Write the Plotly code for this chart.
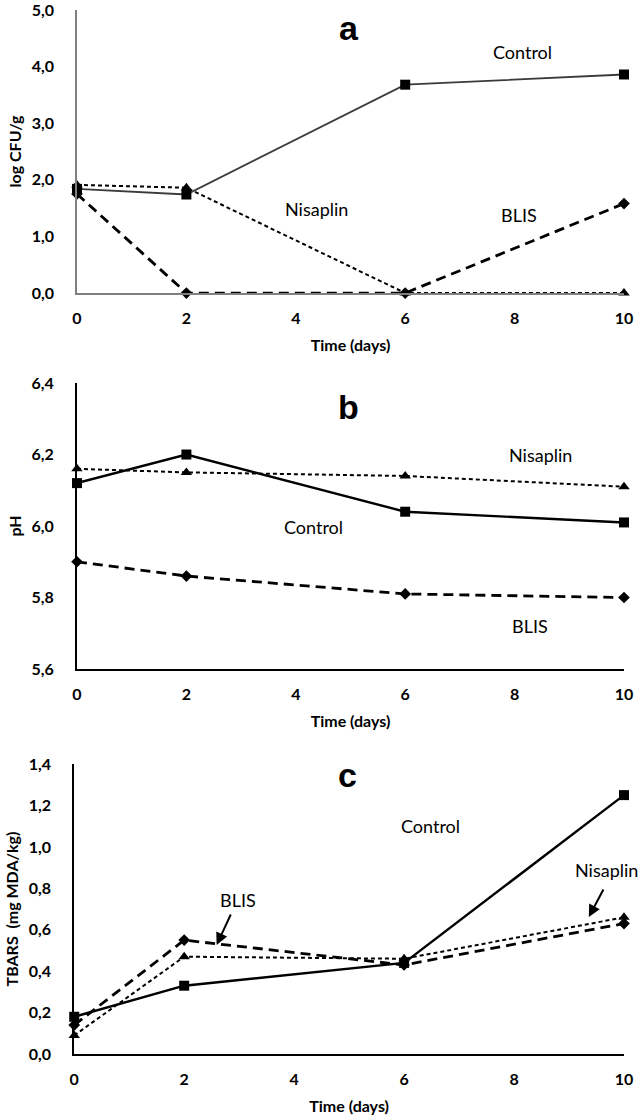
import plotly.graph_objects as go

days = [0, 2, 6, 10]

# Panel a: log CFU/g
a_control = [1.84, 1.74, 3.68, 3.86]
a_nisaplin = [1.91, 1.86, 0.0, 0.0]
a_blis = [1.75, 0.0, 0.0, 1.58]

# Panel b: pH
b_control = [6.12, 6.20, 6.04, 6.01]
b_nisaplin = [6.16, 6.15, 6.14, 6.11]
b_blis = [5.90, 5.86, 5.81, 5.80]

# Panel c: TBARS (mg MDA/kg)
c_control = [0.18, 0.33, 0.44, 1.25]
c_nisaplin = [0.09, 0.47, 0.46, 0.66]
c_blis = [0.14, 0.55, 0.43, 0.63]

x_ticks = [0, 2, 4, 6, 8, 10]
FONT = "Lato"

fig = go.Figure()


def add_panel(idx, ctrl, nis, blis, ctrl_color, ctrl_w):
    xa = "x" if idx == 1 else f"x{idx}"
    ya = "y" if idx == 1 else f"y{idx}"
    fig.add_trace(go.Scatter(x=days, y=nis, xaxis=xa, yaxis=ya, mode="lines+markers",
                             line=dict(color="black", width=2.0, dash="4px,3px"),
                             marker=dict(symbol="triangle-up", size=10, color="black"),
                             cliponaxis=False, showlegend=False, name="Nisaplin"))
    fig.add_trace(go.Scatter(x=days, y=blis, xaxis=xa, yaxis=ya, mode="lines+markers",
                             line=dict(color="black", width=2.8, dash="10px,6px"),
                             marker=dict(symbol="diamond", size=9, color="black"),
                             cliponaxis=False, showlegend=False, name="BLIS"))
    fig.add_trace(go.Scatter(x=days, y=ctrl, xaxis=xa, yaxis=ya, mode="lines+markers",
                             line=dict(color=ctrl_color, width=ctrl_w),
                             marker=dict(symbol="square", size=10, color="black"),
                             cliponaxis=False, showlegend=False, name="Control"))


add_panel(1, a_control, a_nisaplin, a_blis, "#3a3a3a", 1.8)
add_panel(2, b_control, b_nisaplin, b_blis, "black", 2.4)
add_panel(3, c_control, c_nisaplin, c_blis, "black", 2.4)

tickfont = dict(family=FONT, size=16, color="black", weight="bold")
titlefont = dict(family=FONT, size=16, color="black", weight="bold")


def xaxis(anchor, domain, color, width):
    return dict(anchor=anchor, domain=domain, range=[0, 10], tickvals=x_ticks,
                showgrid=False, zeroline=False, showline=True, linecolor=color,
                linewidth=width, ticks="", tickfont=tickfont,
                ticklabelstandoff=10, automargin=False, ticklabeloverflow="allow",
                title=dict(text="Time (days)", font=titlefont, standoff=14))


def yaxis(anchor, domain, rng, dtick, color, width, title):
    return dict(anchor=anchor, domain=domain, range=rng, dtick=dtick, tickformat=".1f",
                showgrid=False, zeroline=False, showline=True, linecolor=color,
                linewidth=width, ticks="", tickfont=tickfont, ticklabelstandoff=18,
                automargin=False, ticklabeloverflow="allow",
                title=dict(text=title, font=titlefont, standoff=6))


xd = [0.1203, 0.975]
xd3 = [0.1160, 0.975]
fig.update_layout(
    width=640, height=1118,
    margin=dict(l=0, r=0, t=0, b=0),
    paper_bgcolor="white", plot_bgcolor="white",
    separators=", ",
    showlegend=False,
    xaxis=xaxis("y", xd, "#808080", 1.5),
    yaxis=yaxis("x", [0.7379, 0.9911], [0, 5], 1, "#808080", 1.5, "log CFU/g"),
    xaxis2=xaxis("y2", xd, "black", 2),
    yaxis2=yaxis("x2", [0.4016, 0.6574], [5.6, 6.4], 0.2, "black", 2, "pH"),
    xaxis3=xaxis("y3", xd3, "black", 2),
    yaxis3=yaxis("x3", [0.0572, 0.3166], [0, 1.4], 0.2, "black", 2, "TBARS  (mg MDA/kg)"),
)

lab = dict(family=FONT, size=18, color="black")
big = dict(family="Liberation Sans", size=34, color="black", weight="bold")

ann = [
    # panel a
    dict(x=4.97, y=4.69, xref="x", yref="y", text="a", font=big),
    dict(x=8.15, y=4.25, xref="x", yref="y", text="Control", font=lab),
    dict(x=4.37, y=1.49, xref="x", yref="y", text="Nisaplin", font=lab),
    dict(x=8.08, y=1.37, xref="x", yref="y", text="BLIS", font=lab),
    # panel b
    dict(x=4.97, y=6.333, xref="x2", yref="y2", text="b", font=big),
    dict(x=8.48, y=6.20, xref="x2", yref="y2", text="Nisaplin", font=lab),
    dict(x=4.33, y=5.997, xref="x2", yref="y2", text="Control", font=lab),
    dict(x=8.28, y=5.72, xref="x2", yref="y2", text="BLIS", font=lab),
    # panel c
    dict(x=4.97, y=1.348, xref="x3", yref="y3", text="c", font=big),
    dict(x=6.48, y=1.10, xref="x3", yref="y3", text="Control", font=lab),
    dict(x=2.97, y=0.744, xref="x3", yref="y3", text="BLIS", font=lab),
    dict(x=1.0, y=0.889, xref="paper", yref="y3", xanchor="right", text="Nisaplin", font=lab),
]
for a in ann:
    a.update(showarrow=False)
    fig.add_annotation(**a)

# arrows in panel c
fig.add_annotation(x=2.59, y=0.527, ax=2.86, ay=0.681, xref="x3", yref="y3",
                   axref="x3", ayref="y3", text="", showarrow=True,
                   arrowhead=2, arrowsize=1.2, arrowwidth=2, arrowcolor="black")
fig.add_annotation(x=9.36, y=0.662, ax=9.64, ay=0.802, xref="x3", yref="y3",
                   axref="x3", ayref="y3", text="", showarrow=True,
                   arrowhead=2, arrowsize=1.2, arrowwidth=2, arrowcolor="black")

fig.write_html("out.html", config={"displayModeBar": False},
               post_script="document.body.style.margin='0';")
